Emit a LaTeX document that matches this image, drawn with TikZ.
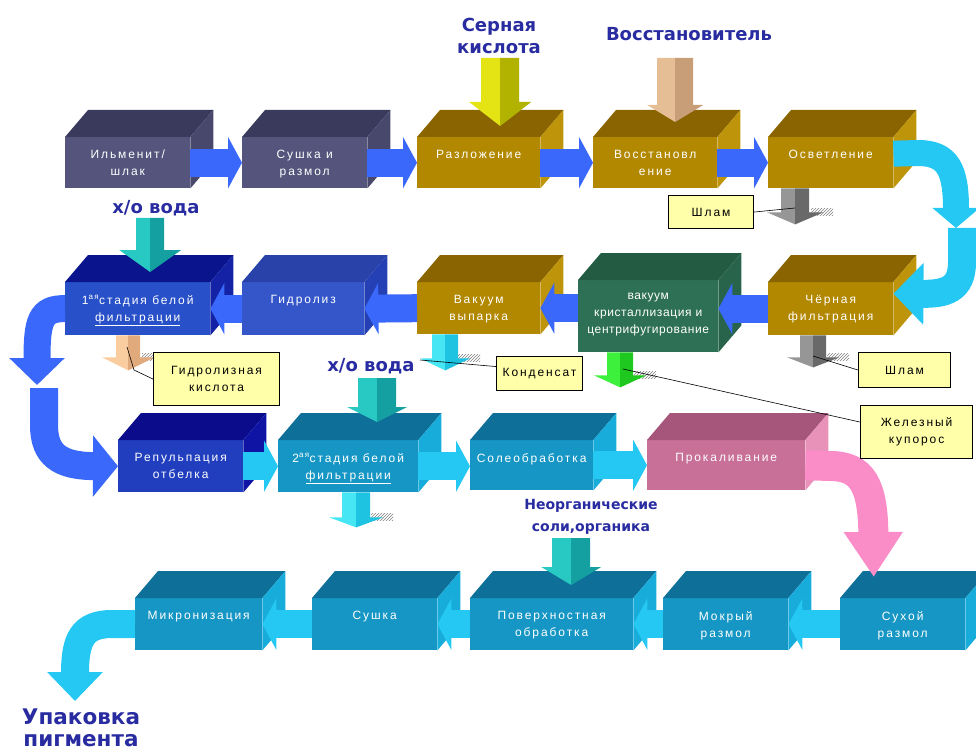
\documentclass[tikz,border=0pt]{standalone}
\usepackage{fontspec}
\setmainfont{Liberation Sans}
\newfontfamily\boxfont[LetterSpace=16]{Liberation Sans}
\newfontfamily\headfont{DejaVu Sans}
\usetikzlibrary{arrows.meta}
\usetikzlibrary{positioning}
\usetikzlibrary{patterns}
\usepackage{xcolor}
% box faces: front, top, side
\definecolor{slateF}{RGB}{84,84,124}
\definecolor{slateT}{RGB}{58,58,92}
\definecolor{slateS}{RGB}{72,72,108}
\definecolor{goldF}{RGB}{178,136,0}
\definecolor{goldT}{RGB}{138,100,0}
\definecolor{goldS}{RGB}{190,148,10}
\definecolor{bluedF}{RGB}{40,80,200}
\definecolor{bluedT}{RGB}{10,20,140}
\definecolor{bluedS}{RGB}{20,35,165}
\definecolor{bluemF}{RGB}{52,86,200}
\definecolor{bluemT}{RGB}{40,66,170}
\definecolor{bluemS}{RGB}{36,64,180}
\definecolor{greenF}{RGB}{46,112,86}
\definecolor{greenT}{RGB}{34,90,66}
\definecolor{greenS}{RGB}{40,100,76}
\definecolor{navyF}{RGB}{32,62,190}
\definecolor{navyT}{RGB}{10,12,140}
\definecolor{navyS}{RGB}{15,20,165}
\definecolor{tealF}{RGB}{22,150,196}
\definecolor{tealT}{RGB}{14,112,152}
\definecolor{tealS}{RGB}{24,172,218}
\definecolor{pinkF}{RGB}{200,112,152}
\definecolor{pinkT}{RGB}{166,86,122}
\definecolor{pinkS}{RGB}{232,145,185}
% arrows and texts
\definecolor{arblue}{RGB}{58,104,250}
\definecolor{arcyan}{RGB}{36,200,242}
\definecolor{arpink}{RGB}{250,140,200}
\definecolor{headblue}{RGB}{40,44,160}
\definecolor{notefill}{RGB}{255,255,170}
\definecolor{yelL}{RGB}{228,228,20}
\definecolor{yelD}{RGB}{178,178,0}
\definecolor{tanL}{RGB}{230,190,150}
\definecolor{tanD}{RGB}{200,158,120}
\definecolor{aquaL}{RGB}{40,200,195}
\definecolor{aquaD}{RGB}{20,160,160}
\definecolor{peachL}{RGB}{250,205,160}
\definecolor{peachD}{RGB}{225,170,125}
\definecolor{greyL}{RGB}{150,150,150}
\definecolor{greyD}{RGB}{105,105,105}
\definecolor{cyanL}{RGB}{70,230,245}
\definecolor{cyanD}{RGB}{30,195,225}
\definecolor{limeL}{RGB}{60,240,60}
\definecolor{limeD}{RGB}{30,200,30}

% name, x, y, width, height, colour scheme, text
\newcommand{\boxcube}[7]{%
	\node[frontface, fill=#6F, minimum width=#4pt, minimum height=#5pt] (#1) at (#2,#3) {};
	\fill[#6T] (#1.north west) -- ++(23,-27) -- ([shift={(23,-27)}]#1.north east) -- (#1.north east) -- cycle;
	\fill[#6S] (#1.north east) -- ++(23,-27) -- ([shift={(23,-27)}]#1.south east) -- (#1.south east) -- cycle;
	\node[boxtxt, below=13pt of #1.north] (#1t) {#7};
}
\newcommand{\tightfont}{\addfontfeature{LetterSpace=5}}
% tip, shaft length, head length, shaft half width, head half width, light, dark
\newcommand{\blkarr}[7]{%
	\fill[#6] (#1) -- ++(-#5,-#3) -- ++(#5-#4,0) -- ++(0,-#2) -- ++(#4,0) -- cycle;
	\fill[#7] (#1) -- ++(#5,-#3) -- ++(#4-#5,0) -- ++(0,-#2) -- ++(-#4,0) -- cycle;
}
\newcommand{\outarr}[7]{%
	\fill[pattern=north east lines, pattern color=gray] (#1) ++(#5-12,-#3-4) rectangle ++(22,7);
	\blkarr{#1}{#2}{#3}{#4}{#5}{#6}{#7}
}

\begin{document}
\begin{tikzpicture}[x=1pt, y=-1pt,
	frontface/.style={anchor=north west, inner sep=0pt},
	boxtxt/.style={text=white, align=center, inner sep=0pt, font=\boxfont\fontsize{12}{17}\selectfont},
	notebox/.style={anchor=north west, draw=black, line width=1.1pt, fill=notefill, align=center, inner sep=0pt, font=\boxfont\fontsize{12}{17}\selectfont},
	headtxt/.style={text=headblue, align=center, inner sep=0pt, font=\headfont\bfseries\fontsize{18}{22}\selectfont},
	flowarr/.style={line width=28pt, draw=#1, -{Triangle[length=14pt, width=51pt]}},
	bentarr/.style n args={3}{line width=#1, -{Triangle[length=#2, width=#3]}},
	leader/.style={draw=black, line width=0.6pt}]
	
	\useasboundingbox (0,0) rectangle (976,751);
	
	% row 1
	\boxcube{ilm}{65}{137}{125}{51}{slate}{Ильменит/\\шлак}
	\boxcube{sush}{242}{137}{125}{51}{slate}{Сушка и\\размол}
	\boxcube{razl}{417}{137}{123}{51}{gold}{Разложение}
	\boxcube{vost}{593}{137}{124}{51}{gold}{Восстановл\\ение}
	\boxcube{osv}{768}{137}{125}{51}{gold}{Осветление}
	
	% row 2
	\boxcube{fil1}{65}{282}{145}{53}{blued}{1\textsuperscript{ая}стадия белой\\\underline{фильтрации}}
	\boxcube{gidr}{242}{282}{122}{53}{bluem}{Гидролиз}
	\boxcube{vyp}{417}{282}{123}{52}{gold}{Вакуум\\выпарка}
	\boxcube{kris}{578}{280}{140}{72}{green}{\tightfont вакуум\\\tightfont кристаллизация и\\\tightfont центрифугирование}
	\boxcube{cher}{768}{282}{125}{53}{gold}{Чёрная\\фильтрация}
	
	% row 3
	\boxcube{rep}{118}{440}{125}{52}{navy}{Репульпация\\отбелка}
	\boxcube{fil2}{278}{440}{140}{52}{teal}{2\textsuperscript{ая}стадия белой\\\underline{фильтрации}}
	\boxcube{sol}{470}{440}{123}{50}{teal}{Солеобработка}
	\boxcube{prok}{647}{440}{158}{50}{pink}{Прокаливание}
	
	% row 4
	\boxcube{mikr}{135}{598}{127}{52}{teal}{Микронизация}
	\boxcube{sushka}{312}{598}{125}{52}{teal}{Сушка}
	\boxcube{pov}{470}{598}{163}{52}{teal}{Поверхностная\\обработка}
	\boxcube{mokr}{663}{598}{125}{52}{teal}{Мокрый\\размол}
	\boxcube{suh}{840}{598}{125}{52}{teal}{Сухой\\размол}
	
	% flow between boxes
	\draw[flowarr=arblue] (ilm.east) -- (sush.west);
	\draw[flowarr=arblue] (sush.east) -- (razl.west);
	\draw[flowarr=arblue] (razl.east) -- (vost.west);
	\draw[flowarr=arblue] (vost.east) -- (osv.west);
	
	\draw[flowarr=arblue] (gidr.west) -- (fil1.east);
	\draw[flowarr=arblue] (vyp.west) -- (gidr.east);
	\draw[flowarr=arblue] (kris.west |- vyp.east) -- (vyp.east);
	\draw[flowarr=arblue] (cher.west) -- (kris.east |- cher.west);
	
	\draw[flowarr=arcyan] (rep.east) -- (fil2.west);
	\draw[flowarr=arcyan] (fil2.east) -- (sol.west |- fil2.east);
	\draw[flowarr=arcyan] (sol.east) -- (prok.west |- sol.east);
	
	\draw[flowarr=arcyan] (sushka.west) -- (mikr.east);
	\draw[flowarr=arcyan] (pov.west) -- (sushka.east);
	\draw[flowarr=arcyan] (mokr.west) -- (pov.east);
	\draw[flowarr=arcyan] (suh.west) -- (mokr.east);
	
	% turns between rows
	\coordinate (uturn) at (956,228);
	\coordinate (bstart) at (44,388);
	\coordinate (packtip) at (75,701);
	\draw[draw=arcyan, bentarr={26pt}{20pt}{46pt}] ([yshift=9pt]osv.east) -- (918,153) .. controls (948,153) and (956,170) .. (uturn);
	\draw[draw=arcyan, bentarr={28pt}{30pt}{60pt}] ([xshift=6pt]uturn) -- (962,262) .. controls (962,290) and (945,294) .. ([yshift=15pt]cher.east);
	\draw[draw=arblue, bentarr={27pt}{27pt}{54pt}] (fil1.west) .. controls (40,308) and (37,322) .. (37,385);
	\draw[draw=arblue, bentarr={28pt}{25pt}{60pt}] (bstart) -- (44,425) .. controls (44,455) and (60,466) .. (rep.west);
	\draw[draw=arpink, bentarr={30pt}{45pt}{56pt}] (prok.east) -- (830,466) .. controls (862,466) and (873,485) .. ([shift={(-29,-21)}]suh.north);
	\draw[draw=arcyan, bentarr={28pt}{29pt}{54pt}] (mikr.west) -- (112,624) .. controls (82,624) and (75,640) .. (packtip);
	
	% feeds
	\blkarr{[shift={(21.5,-11)}]razl.north}{44}{24}{19}{31}{yelL}{yelD}
	\blkarr{[shift={(20,-15)}]vost.north}{47}{17}{18}{28}{tanL}{tanD}
	\blkarr{[shift={(12.5,-10)}]fil1.north}{32}{22}{14}{31}{aquaL}{aquaD}
	\blkarr{[shift={(29,-18)}]fil2.north}{29}{15}{19}{30}{aquaL}{aquaD}
	\blkarr{[shift={(19.5,-13)}]pov.north}{29}{18}{19}{30}{aquaL}{aquaD}
	
	% outputs
	\outarr{[shift={(-9.5,35)}]fil1.south}{22}{13}{12}{26}{peachL}{peachD}
	\outarr{[shift={(-35.5,36)}]osv.south}{24}{12}{14}{28}{greyL}{greyD}
	\outarr{[shift={(-17.5,32)}]cher.south}{22}{10}{13}{26}{greyL}{greyD}
	\outarr{[shift={(-33.5,36)}]vyp.south}{24}{12}{13}{25}{cyanL}{cyanD}
	\outarr{[shift={(-28,35)}]kris.south}{23}{12}{13}{26}{limeL}{limeD}
	\outarr{[shift={(8,35)}]fil2.south}{25}{10}{14}{27}{cyanL}{cyanD}
	
	% notes
	\node[notebox, minimum width=85pt, minimum height=33pt] (slam1) at (668,195) {Шлам};
	\node[notebox, minimum width=126pt, minimum height=53pt] (gk) at (153,352) {Гидролизная\\кислота};
	\node[notebox, minimum width=86pt, minimum height=34pt] (kond) at (496,356) {Конденсат};
	\node[notebox, minimum width=92pt, minimum height=35pt] (slam2) at (858,352) {Шлам};
	\node[notebox, minimum width=112pt, minimum height=53pt] (zhk) at (860,405) {Железный\\купорос};
	
	\coordinate (s1end) at (795,208);
	\coordinate (gkend) at (127,347);
	\coordinate (kend) at (420,360);
	\coordinate (zend) at (623,369);
	\coordinate (s2end) at (813,356);
	\draw[leader] (slam1.east) -- (s1end);
	\draw[leader] (gk.west) -- (134,370) -- (gkend);
	\draw[leader] ([yshift=7pt]kond.west) -- (kend);
	\draw[leader] ([yshift=10pt]zhk.west) -- (zend);
	\draw[leader] (slam2.west) -- (s2end);
	
	% inputs and product
	\node[headtxt] (acid) at (499,36) {Серная\\кислота};
	\node[headtxt] (redu) at (689,34) {Восстановитель};
	\node[headtxt] (wat1) at (156,208) {х/о вода};
	\node[headtxt] (wat2) at (371,366) {х/о вода};
	\node[headtxt, font=\headfont\bfseries\fontsize{14}{22}\selectfont] (salts) at (591,517) {Неорганические\\соли,органика};
	\node[headtxt, font=\headfont\bfseries\fontsize{21.5}{22}\selectfont] (pack) at (81,728) {Упаковка\\пигмента};
	
\end{tikzpicture}
\end{document}
